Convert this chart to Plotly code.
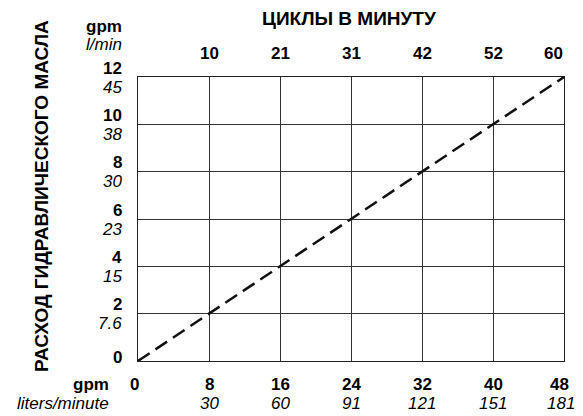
import plotly.graph_objects as go

# Data
gpm_x = [0, 8, 16, 24, 32, 40, 48]
lpm_x = ["", "30", "60", "91", "121", "151", "181"]
cycles_x = [8, 16, 24, 32, 40, 48]
cycles_lbl = ["10", "21", "31", "42", "52", "60"]
gpm_y = [0, 2, 4, 6, 8, 10, 12]
lpm_y = ["", "7.6", "15", "23", "30", "38", "45"]
line_x = [0, 48]
line_y = [0, 12]

FONT = "Liberation Sans, Arial, sans-serif"
BS = 17  # bold size
IS = 17  # italic size
TS = 19  # title size

fig = go.Figure()
fig.add_trace(go.Scatter(x=line_x, y=line_y, mode="lines",
                         line=dict(color="#111", width=2.5, dash="14px,7px"),
                         hoverinfo="skip", showlegend=False))

ann = []
# bottom labels
for xv, l in zip(gpm_x, lpm_x):
    ann.append(dict(x=xv, y=0, xref="x", yref="paper", text=f"<b>{xv}</b>",
                    showarrow=False, yanchor="middle", yshift=-23, borderpad=0,
                    xshift=-4 if xv == 0 else (-5 if xv == 48 else 0),
                    font=dict(size=BS, color="black", family=FONT)))
    if l:
        ann.append(dict(x=xv, y=0, xref="x", yref="paper", text=f"<i>{l}</i>",
                        showarrow=False, yanchor="middle", yshift=-42, borderpad=0,
                        xshift=-3 if xv == 48 else 0,
                        font=dict(size=IS, color="black", family=FONT)))
ann.append(dict(x=0, y=0, xref="paper", yref="paper", text="<b>gpm</b>", showarrow=False,
                xanchor="right", yanchor="middle", xshift=-28, yshift=-23, borderpad=0,
                font=dict(size=BS, color="black", family=FONT)))
ann.append(dict(x=0, y=0, xref="paper", yref="paper", text="<i>liters/minute</i>", showarrow=False,
                xanchor="right", yanchor="middle", xshift=-28, yshift=-42, borderpad=0,
                font=dict(size=IS, color="black", family=FONT)))
# top labels
for xv, c in zip(cycles_x, cycles_lbl):
    ann.append(dict(x=xv, y=1, xref="x", yref="paper", text=f"<b>{c}</b>",
                    showarrow=False, yanchor="middle", yshift=24,
                    xshift=-11 if xv == 48 else 0,
                    font=dict(size=BS, color="black", family=FONT)))
ann.append(dict(x=0.5, y=1, xref="paper", yref="paper", text="<b>ЦИКЛЫ В МИНУТУ</b>",
                showarrow=False, yanchor="middle", yshift=59, xshift=-2,
                font=dict(size=TS, color="black", family=FONT)))
# left labels
for yv, l in zip(gpm_y, lpm_y):
    ann.append(dict(x=0, y=yv, xref="paper", yref="y", text=f"<b>{yv}</b>",
                    showarrow=False, xanchor="right", yanchor="middle", borderpad=0,
                    xshift=-15, yshift=4 if yv == 0 else 9,
                    font=dict(size=BS, color="black", family=FONT)))
    if l:
        ann.append(dict(x=0, y=yv, xref="paper", yref="y", text=f"<i>{l}</i>",
                        showarrow=False, xanchor="right", yanchor="middle", borderpad=0,
                        xshift=-15, yshift=-10,
                        font=dict(size=IS, color="black", family=FONT)))
ann.append(dict(x=0, y=1, xref="paper", yref="paper", text="<b>gpm</b>", showarrow=False,
                xanchor="right", yanchor="middle", xshift=-15, yshift=51, borderpad=0,
                font=dict(size=BS, color="black", family=FONT)))
ann.append(dict(x=0, y=1, xref="paper", yref="paper", text="<i>l/min</i>", showarrow=False,
                xanchor="right", yanchor="middle", xshift=-15, yshift=33, borderpad=0,
                font=dict(size=IS, color="black", family=FONT)))
ann.append(dict(x=0, y=0.5, xref="paper", yref="paper", text="<b>РАСХОД ГИДРАВЛИЧЕСКОГО МАСЛА</b>",
                showarrow=False, textangle=-90, xanchor="center", yanchor="middle",
                xshift=-97, yshift=23,
                font=dict(size=TS, color="black", family=FONT)))

# page body has an 8px margin, so the figure is sized to fit the 583x416 window
fig.update_layout(
    width=575, height=408,
    margin=dict(l=130, r=19, t=69, b=55),
    paper_bgcolor="white", plot_bgcolor="white",
    annotations=ann,
    xaxis=dict(range=[0, 48], tickvals=gpm_x, showticklabels=False, ticks="",
               showgrid=True, gridcolor="#333", gridwidth=1, zeroline=False,
               showline=True, mirror=True, linecolor="#222", linewidth=1.2, fixedrange=True),
    yaxis=dict(range=[0, 12], tickvals=gpm_y, showticklabels=False, ticks="",
               showgrid=True, gridcolor="#333", gridwidth=1, zeroline=False,
               showline=True, mirror=True, linecolor="#222", linewidth=1.2, fixedrange=True),
)

fig.write_html("out.html")
